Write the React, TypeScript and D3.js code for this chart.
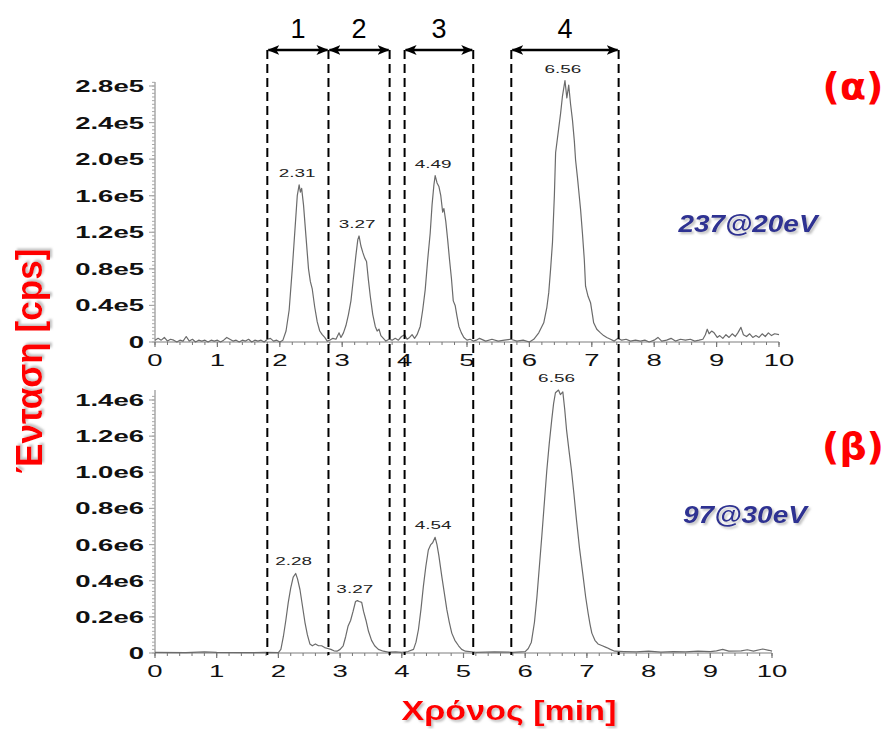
import * as d3 from "d3";
import React from "react";

// chromatogram (α): time [min], intensity [×1e5 cps]
const topTrace: [number, number][] = [
  [0, 0.02], [0.05, 0.04], [0.1, 0.02], [0.15, 0.05], [0.2, 0.01], [0.25, 0.03], [0.3, 0.02], [0.35, 0.0],
  [0.4, 0.02], [0.45, 0.01], [0.5, 0.06], [0.55, 0.01], [0.6, 0.03], [0.65, 0.0], [0.7, 0.02], [0.75, 0.01],
  [0.8, 0.02], [0.85, 0.0], [0.9, 0.02], [0.95, 0.01], [1.0, 0.02], [1.05, 0.0], [1.1, 0.02], [1.15, 0.05],
  [1.2, 0.03], [1.25, 0.01], [1.3, 0.02], [1.35, 0.0], [1.4, 0.02], [1.45, 0.01], [1.5, 0.03], [1.55, 0.0],
  [1.6, 0.02], [1.65, 0.01], [1.7, 0.02], [1.75, 0.0], [1.8, 0.03], [1.85, 0.04], [1.9, 0.01], [1.95, 0.02],
  [2.0, 0.0], [2.05, 0.02], [2.1, 0.12], [2.15, 0.35], [2.2, 0.8], [2.25, 1.3], [2.28, 1.6], [2.31, 1.72],
  [2.33, 1.64], [2.35, 1.68], [2.38, 1.5], [2.42, 1.15], [2.46, 0.8], [2.49, 0.66], [2.52, 0.58], [2.56, 0.38],
  [2.6, 0.22], [2.64, 0.12], [2.68, 0.08], [2.72, 0.05], [2.76, 0.01], [2.8, 0.02], [2.85, 0.04], [2.9, 0.03],
  [2.95, 0.1], [2.98, 0.05], [3.02, 0.1], [3.06, 0.18], [3.1, 0.3], [3.14, 0.45], [3.18, 0.7], [3.22, 0.95],
  [3.25, 1.12], [3.27, 1.16], [3.3, 1.05], [3.33, 0.98], [3.36, 0.92], [3.39, 0.88], [3.42, 0.68], [3.45, 0.5],
  [3.49, 0.3], [3.53, 0.17], [3.56, 0.12], [3.59, 0.14], [3.62, 0.07], [3.66, 0.04], [3.7, 0.01], [3.75, 0.03],
  [3.8, 0.02], [3.85, 0.04], [3.9, 0.02], [3.95, 0.06], [4.0, 0.08], [4.04, 0.03], [4.08, 0.05], [4.12, 0.08],
  [4.16, 0.04], [4.2, 0.08], [4.25, 0.17], [4.29, 0.35], [4.33, 0.57], [4.37, 0.9], [4.41, 1.19], [4.44, 1.5],
  [4.47, 1.72], [4.49, 1.82], [4.52, 1.74], [4.55, 1.7], [4.58, 1.6], [4.61, 1.42], [4.63, 1.46], [4.66, 1.32],
  [4.69, 1.12], [4.72, 0.9], [4.75, 0.7], [4.78, 0.45], [4.81, 0.4], [4.84, 0.28], [4.87, 0.17], [4.91, 0.1],
  [4.95, 0.05], [5.0, 0.02], [5.05, 0.03], [5.1, 0.01], [5.15, 0.02], [5.2, 0.04], [5.3, 0.01], [5.4, 0.03],
  [5.5, 0.01], [5.6, 0.02], [5.7, 0.03], [5.8, 0.01], [5.9, 0.02], [6.0, 0.0], [6.07, 0.03], [6.15, 0.1],
  [6.23, 0.21], [6.28, 0.38], [6.31, 0.54], [6.34, 0.8], [6.37, 1.09], [6.4, 1.6], [6.42, 2.07], [6.47, 2.34],
  [6.5, 2.5], [6.53, 2.69], [6.57, 2.86], [6.6, 2.67], [6.63, 2.81], [6.66, 2.6], [6.69, 2.43], [6.72, 2.2],
  [6.74, 1.99], [6.77, 1.8], [6.79, 1.66], [6.82, 1.45], [6.85, 1.19], [6.88, 0.9], [6.9, 0.61], [6.94, 0.5],
  [6.98, 0.43], [7.01, 0.3], [7.03, 0.21], [7.08, 0.14], [7.14, 0.1], [7.19, 0.07], [7.24, 0.05], [7.3, 0.03],
  [7.36, 0.01], [7.42, 0.04], [7.48, 0.02], [7.55, 0.03], [7.62, 0.01], [7.7, 0.02], [7.78, 0.01], [7.85, 0.02],
  [7.92, 0.0], [8.0, 0.02], [8.06, 0.05], [8.12, 0.01], [8.2, 0.02], [8.27, 0.04], [8.34, 0.01], [8.42, 0.03],
  [8.5, 0.02], [8.58, 0.03], [8.65, 0.01], [8.72, 0.02], [8.78, 0.03], [8.82, 0.08], [8.85, 0.14], [8.88, 0.09],
  [8.92, 0.12], [8.96, 0.1], [9.01, 0.05], [9.05, 0.07], [9.1, 0.04], [9.15, 0.08], [9.2, 0.05], [9.25, 0.09],
  [9.3, 0.06], [9.34, 0.1], [9.39, 0.16], [9.43, 0.08], [9.48, 0.06], [9.53, 0.09], [9.58, 0.05], [9.63, 0.07],
  [9.68, 0.05], [9.73, 0.09], [9.78, 0.06], [9.83, 0.1], [9.88, 0.07], [9.93, 0.09], [10.0, 0.08],
];

// chromatogram (β): time [min], intensity [×1e6 cps]
const bottomTrace: [number, number][] = [
  [0, 0.003], [0.5, 0.002], [0.8, 0.006], [1.0, 0.003], [1.5, 0.002], [1.8, 0.003], [2.0, 0.002], [2.04, 0.02],
  [2.08, 0.09], [2.12, 0.18], [2.16, 0.28], [2.2, 0.36], [2.24, 0.42], [2.28, 0.44], [2.31, 0.41], [2.35, 0.35],
  [2.39, 0.26], [2.43, 0.17], [2.47, 0.1], [2.51, 0.05], [2.55, 0.04], [2.6, 0.05], [2.65, 0.04], [2.7, 0.04],
  [2.75, 0.03], [2.8, 0.025], [2.85, 0.02], [2.9, 0.012], [2.95, 0.01], [3.0, 0.02], [3.05, 0.04], [3.09, 0.09],
  [3.13, 0.15], [3.17, 0.18], [3.21, 0.23], [3.25, 0.285], [3.28, 0.29], [3.31, 0.285], [3.35, 0.28], [3.38, 0.23],
  [3.42, 0.18], [3.46, 0.12], [3.51, 0.07], [3.56, 0.04], [3.62, 0.02], [3.7, 0.01], [3.78, 0.005], [3.9, 0.006],
  [4.0, 0.004], [4.1, 0.008], [4.19, 0.02], [4.23, 0.06], [4.27, 0.13], [4.31, 0.24], [4.35, 0.37], [4.39, 0.48],
  [4.43, 0.57], [4.47, 0.6], [4.5, 0.61], [4.54, 0.64], [4.57, 0.6], [4.6, 0.54], [4.65, 0.42], [4.69, 0.33],
  [4.73, 0.24], [4.77, 0.17], [4.81, 0.11], [4.86, 0.07], [4.92, 0.04], [4.97, 0.02], [5.03, 0.01], [5.2, 0.004],
  [5.5, 0.006], [5.8, 0.004], [6.0, 0.008], [6.05, 0.025], [6.1, 0.06], [6.15, 0.17], [6.19, 0.31], [6.23, 0.48],
  [6.27, 0.65], [6.31, 0.83], [6.35, 1.01], [6.39, 1.16], [6.43, 1.29], [6.46, 1.38], [6.49, 1.44], [6.54, 1.455],
  [6.57, 1.43], [6.61, 1.445], [6.64, 1.35], [6.67, 1.235], [6.71, 1.12], [6.75, 1.01], [6.79, 0.88], [6.83, 0.74],
  [6.88, 0.58], [6.94, 0.42], [6.98, 0.31], [7.02, 0.22], [7.05, 0.16], [7.08, 0.11], [7.13, 0.07], [7.18, 0.05],
  [7.25, 0.04], [7.32, 0.03], [7.38, 0.02], [7.45, 0.01], [7.6, 0.008], [7.8, 0.006], [8.0, 0.01], [8.2, 0.005],
  [8.4, 0.008], [8.6, 0.006], [8.8, 0.01], [9.0, 0.008], [9.1, 0.012], [9.2, 0.02], [9.3, 0.01], [9.5, 0.012],
  [9.6, 0.018], [9.7, 0.01], [9.85, 0.022], [9.95, 0.015], [10.0, 0.01],
];

// peak apex labels: [time, intensity, label]
const topPeaks: [number, number, string][] = [
  [2.31, 1.72, "2.31"], [3.27, 1.16, "3.27"], [4.49, 1.82, "4.49"], [6.57, 2.86, "6.56"],
];
const bottomPeaks: [number, number, string][] = [
  [2.28, 0.44, "2.28"], [3.27, 0.29, "3.27"], [4.54, 0.64, "4.54"], [6.54, 1.455, "6.56"],
];

const topYTicks = [0, 0.4, 0.8, 1.2, 1.6, 2.0, 2.4, 2.8];
const topYLabels = ["0", "0.4e5", "0.8e5", "1.2e5", "1.6e5", "2.0e5", "2.4e5", "2.8e5"];
const bottomYTicks = [0, 0.2, 0.4, 0.6, 0.8, 1.0, 1.2, 1.4];
const bottomYLabels = ["0", "0.2e6", "0.4e6", "0.6e6", "0.8e6", "1.0e6", "1.2e6", "1.4e6"];
const xTicks = [0, 1, 2, 3, 4, 5, 6, 7, 8, 9, 10];

// retention windows marked with dashed lines [start, end] in minutes
const windows: [number, number][] = [[1.8, 2.78], [2.78, 3.76], [4.0, 5.1], [5.71, 7.43]];
const windowNames = ["1", "2", "3", "4"];

const AXIS = "#a8a8a8";
const TRACE = "#6b6b6b";
const STRETCH = 1.72;
const SANS = "Liberation Sans, Arial, sans-serif";

type PanelProps = {
  trace: [number, number][];
  peaks: [number, number, string][];
  yTicks: number[];
  yLabels: string[];
  xRange: [number, number];
  yRange: [number, number];
  axisTop: number;
};

function Panel({ trace, peaks, yTicks, yLabels, xRange, yRange, axisTop }: PanelProps) {
  const yMax = yTicks[yTicks.length - 1];
  const x = d3.scaleLinear().domain([0, 10]).range(xRange);
  const y = d3.scaleLinear().domain([0, yMax]).range(yRange);
  const line = d3.line<[number, number]>().x(d => x(d[0])).y(d => y(d[1]));
  const step = yTicks[1] - yTicks[0];
  const yMinor = d3.range(0, yMax + step * 0.11, step / 10);
  const xMinor = d3.range(0, 10.001, 0.2);
  const x0 = xRange[0];
  const y0 = yRange[0];
  return (
    <g>
      {/* y axis */}
      <line x1={x0} x2={x0} y1={y0} y2={axisTop} stroke={AXIS} strokeWidth={1.5} />
      {yMinor.map((v, i) => (
        <line key={"ym" + i} x1={x0 - 3} x2={x0} y1={y(v)} y2={y(v)} stroke={AXIS} strokeWidth={1} />
      ))}
      {yTicks.map((v, i) => (
        <g key={"yt" + i}>
          <line x1={x0 - 6} x2={x0} y1={y(v)} y2={y(v)} stroke={AXIS} strokeWidth={1.2} />
          <text
            transform={`translate(${x0 - 11},${y(v) + 6}) scale(${STRETCH},1)`}
            textAnchor="end"
            fontFamily={SANS}
            fontWeight="bold"
            fontSize={16}
            fill="#111"
          >
            {yLabels[i]}
          </text>
        </g>
      ))}
      {/* x axis */}
      <line x1={x0} x2={xRange[1]} y1={y0} y2={y0} stroke={AXIS} strokeWidth={1.5} />
      {xMinor.map((v, i) => (
        <line key={"xm" + i} x1={x(v)} x2={x(v)} y1={y0} y2={y0 + 3} stroke="#777" strokeWidth={1} />
      ))}
      {xTicks.map(v => (
        <g key={"xt" + v}>
          <line x1={x(v)} x2={x(v)} y1={y0} y2={y0 + 5} stroke="#777" strokeWidth={1.2} />
          <text
            transform={`translate(${x(v)},${y0 + 24}) scale(${STRETCH},1)`}
            textAnchor="middle"
            fontFamily={SANS}
            fontSize={16}
            fill="#111"
          >
            {v}
          </text>
        </g>
      ))}
      <path d={line(trace) || ""} fill="none" stroke={TRACE} strokeWidth={1.2} strokeLinejoin="round" />
      {peaks.map((p, i) => (
        <text
          key={"pk" + i}
          transform={`translate(${x(p[0]) - 2},${y(p[1]) - 8}) scale(${STRETCH},1)`}
          textAnchor="middle"
          fontFamily={SANS}
          fontSize={11}
          fill="#222"
        >
          {p[2]}
        </text>
      ))}
    </g>
  );
}

export default function App() {
  const W = 885;
  const H = 729;
  const topX = d3.scaleLinear().domain([0, 10]).range([155, 779]);
  const arrowY = 50;
  const dashBottom = 655;
  const bounds = Array.from(new Set(windows.flat()));
  return (
    <svg width={W} height={H} style={{ position: "absolute", left: 0, top: 0, background: "#fff" }}>
      <defs>
        <marker id="ah" viewBox="0 0 12 10" refX={11} refY={5} markerWidth={12} markerHeight={10}
          markerUnits="userSpaceOnUse" orient="auto-start-reverse">
          <path d="M0,0 L12,5 L0,10 L3,5 Z" fill="#000" />
        </marker>
        <filter id="shadow" x="-10%" y="-20%" width="120%" height="150%">
          <feDropShadow dx={2} dy={2} stdDeviation={0.8} floodColor="#999" floodOpacity={0.6} />
        </filter>
      </defs>
      <rect width={W} height={H} fill="#fff" />

      <Panel trace={topTrace} peaks={topPeaks} yTicks={topYTicks} yLabels={topYLabels}
        xRange={[155, 779]} yRange={[342, 86]} axisTop={82} />
      <Panel trace={bottomTrace} peaks={bottomPeaks} yTicks={bottomYTicks} yLabels={bottomYLabels}
        xRange={[155, 772]} yRange={[653, 400]} axisTop={390} />

      {/* retention windows */}
      {bounds.map((b, i) => (
        <line key={"d" + i} x1={topX(b)} x2={topX(b)} y1={arrowY} y2={dashBottom}
          stroke="#000" strokeWidth={2} strokeDasharray="9,5" />
      ))}
      {windows.map((w, i) => (
        <g key={"w" + i}>
          <line x1={topX(w[0]) + 1} x2={topX(w[1]) - 1} y1={arrowY} y2={arrowY} stroke="#000" strokeWidth={2.5}
            markerStart="url(#ah)" markerEnd="url(#ah)" />
          <text x={(topX(w[0]) + topX(w[1])) / 2} y={38} textAnchor="middle"
            fontFamily={SANS} fontSize={27} fill="#000">
            {windowNames[i]}
          </text>
        </g>
      ))}

      {/* panel tags */}
      <text x={853} y={99} textAnchor="middle" fontFamily="DejaVu Sans, sans-serif" fontWeight="bold"
        fontSize={38} fill="#ff0000">(α)</text>
      <text x={853} y={459} textAnchor="middle" fontFamily="DejaVu Sans, sans-serif" fontWeight="bold"
        fontSize={38} fill="#ff0000">(β)</text>
      <text x={748} y={232} textAnchor="middle" fontFamily={SANS} fontWeight="bold" fontStyle="italic"
        fontSize={24} fill="#2e3192" textLength={139} lengthAdjust="spacingAndGlyphs" filter="url(#shadow)">
        237@20eV
      </text>
      <text x={745} y={523} textAnchor="middle" fontFamily={SANS} fontWeight="bold" fontStyle="italic"
        fontSize={24} fill="#2e3192" textLength={124} lengthAdjust="spacingAndGlyphs" filter="url(#shadow)">
        97@30eV
      </text>

      {/* axis titles */}
      <text x={509} y={720} textAnchor="middle" fontFamily={SANS} fontWeight="bold" fontSize={27}
        fill="#ff0000" textLength={215} lengthAdjust="spacingAndGlyphs" filter="url(#shadow)">
        Χρόνος [min]
      </text>
      <text transform="translate(42,361) rotate(-90)" textAnchor="middle" fontFamily={SANS} fontWeight="bold"
        fontSize={36} fill="#ff0000" textLength={225} lengthAdjust="spacingAndGlyphs" filter="url(#shadow)">
        Ένταση [cps]
      </text>
    </svg>
  );
}
